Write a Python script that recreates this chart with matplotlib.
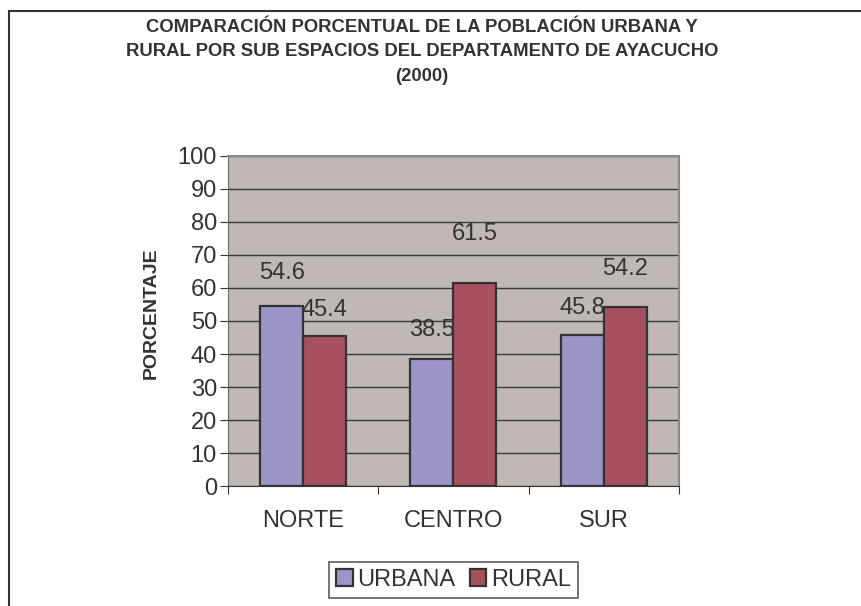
import matplotlib.pyplot as plt
from matplotlib.lines import Line2D
import numpy as np

plt.rcParams['font.family'] = ['Liberation Sans', 'DejaVu Sans']

# Datos
categorias = ['NORTE', 'CENTRO', 'SUR']
urbana = [54.6, 38.5, 45.8]
rural = [45.4, 61.5, 54.2]
# desplazamiento vertical (px) de las etiquetas de datos, como en el original
desp_urbana = [33, 29, 27]
desp_rural = [26, 49, 38]

color_texto = '#333333'
fig = plt.figure(figsize=(8.61, 6.06), dpi=100)
ax = fig.add_axes([0.2648, 0.198, 0.5238, 0.5446])
ax.set_facecolor('#C0B8B5')

x = np.arange(len(categorias))
ancho = 0.286
b1 = ax.bar(x - ancho / 2, urbana, ancho, color='#9C96C8', edgecolor='#333333',
            linewidth=1.6, label='URBANA', zorder=3)
b2 = ax.bar(x + ancho / 2, rural, ancho, color='#A65060', edgecolor='#333333',
            linewidth=1.6, label='RURAL', zorder=3)

for xi, v, d in zip(x - ancho / 2, urbana, desp_urbana):
    ax.annotate(f'{v}', (xi, v), xytext=(0, d), textcoords='offset pixels',
                ha='center', va='center', fontsize=17, color=color_texto, zorder=4)
for xi, v, d in zip(x + ancho / 2, rural, desp_rural):
    ax.annotate(f'{v}', (xi, v), xytext=(0, d), textcoords='offset pixels',
                ha='center', va='center', fontsize=17, color=color_texto, zorder=4)

ax.set_xlim(-0.5, 2.5)
ax.set_ylim(0, 100)
ax.set_yticks(range(0, 101, 10))
ax.yaxis.grid(True, color='#3a3a3a', linewidth=1, zorder=1)
ax.set_axisbelow(True)

# marcas del eje x en los limites de categoria
ax.set_xticks([-0.5, 0.5, 1.5, 2.5])
ax.set_xticklabels([])
ax.set_xticks(x, minor=True)
ax.set_xticklabels(categorias, minor=True)
ax.tick_params(axis='x', which='minor', length=0, pad=17, labelsize=17, labelcolor=color_texto)
ax.tick_params(axis='x', which='major', length=6, color='#333333')
ax.tick_params(axis='y', length=6, color='#333333', labelsize=17, labelcolor=color_texto, pad=2)

for s in ['top', 'right']:
    ax.spines[s].set_color('#8a8a8a')
    ax.spines[s].set_linewidth(1.5)
ax.spines['left'].set_color('#6a6a6a')
ax.spines['bottom'].set_color('#333333')

ax.set_ylabel('PORCENTAJE', fontsize=14, fontweight='bold', color=color_texto)
ax.yaxis.set_label_coords(-0.152, 0.524)

fig.text(0.49, 1 - 52 / 606,
         'COMPARACIÓN PORCENTUAL DE LA POBLACIÓN URBANA Y\n'
         'RURAL POR SUB ESPACIOS DEL DEPARTAMENTO DE AYACUCHO\n(2000)',
         ha='center', va='center', fontsize=13.3, fontweight='bold',
         color=color_texto, linespacing=1.6)

leg = ax.legend(loc='center', bbox_to_anchor=(0.527, 0.043),
                bbox_transform=fig.transFigure, ncol=2, fontsize=17,
                frameon=True, fancybox=False, handlelength=0.7, handleheight=0.7,
                handletextpad=0.2, columnspacing=0.6, borderpad=0.3,
                borderaxespad=0)
leg.get_frame().set_edgecolor('#333333')
leg.get_frame().set_linewidth(1.2)
for t in leg.get_texts():
    t.set_color(color_texto)

# marco exterior del grafico
fig.add_artist(Line2D([9 / 861, 1], [1 - 11 / 606, 1 - 11 / 606],
                      transform=fig.transFigure, color='#333333', linewidth=1.5))
fig.add_artist(Line2D([9 / 861, 9 / 861], [0, 1 - 11 / 606],
                      transform=fig.transFigure, color='#333333', linewidth=1.5))

fig.savefig('out.png', dpi=100)
